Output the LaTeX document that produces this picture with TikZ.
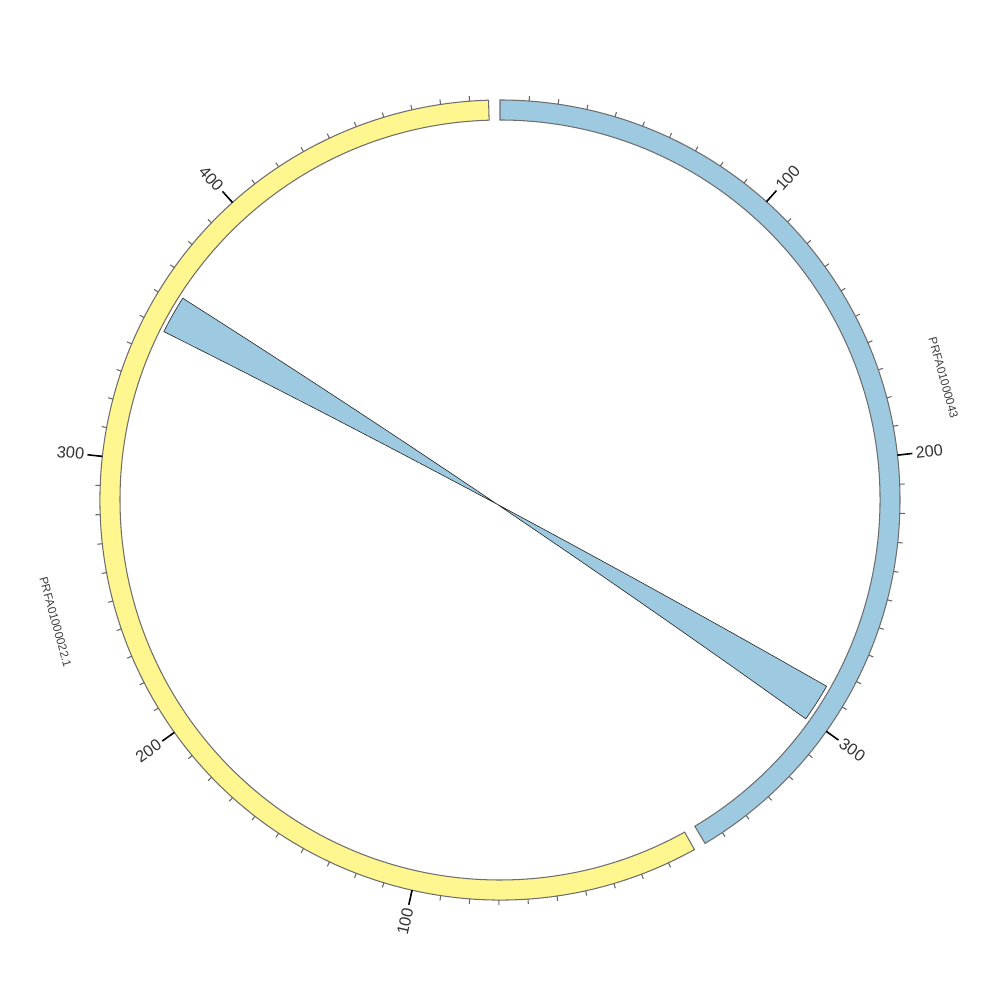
\documentclass[tikz,border=0pt]{standalone}
\usepackage{fontspec}
\setmainfont{Liberation Sans}
\definecolor{ideoblue}{HTML}{9ECAE1}
\definecolor{ideoyellow}{HTML}{FFF68F}
\definecolor{edgegray}{HTML}{6E6E6E}
\definecolor{txt}{HTML}{333333}
\begin{document}
\begin{tikzpicture}[
  ideo/.style={fill=#1, draw=edgegray, line width=0.6pt},
  ribbonstyle/.style={fill=ideoblue, draw=black!85, line width=0.35pt},
  minortick/.style={draw=black!60, line width=0.6pt},
  majortick/.style={draw=black, line width=0.9pt},
  ticklabel/.style={text=txt, font=\fontsize{9.3}{11}\selectfont, inner sep=0pt},
  chrlabel/.style={text=black!75, font=\fontsize{6.7}{8}\selectfont, inner sep=0pt},
]
\useasboundingbox (-10,-10) rectangle (10,10);
\def\dpu{0.4178}
% ---- blue ideogram PRFA01000043
\pgfmathsetmacro\bs{90}
\pgfmathsetmacro\be{90-357*\dpu}
\draw[ideo=ideoblue] (\bs:8) arc[start angle=\bs,end angle=\be,radius=8]
  -- (\be:7.6) arc[start angle=\be,end angle=\bs,radius=7.6] -- cycle;
% ---- yellow ideogram PRFA01000022.1
\pgfmathsetmacro\ys{-60.92}
\pgfmathsetmacro\ye{-60.92-496.5*\dpu}
\draw[ideo=ideoyellow] (\ys:8) arc[start angle=\ys,end angle=\ye,radius=8]
  -- (\ye:7.6) arc[start angle=\ye,end angle=\ys,radius=7.6] -- cycle;
% ---- ribbon
\pgfmathsetmacro\ba{90-286.5*\dpu}
\pgfmathsetmacro\bb{90-300.6*\dpu}
\pgfmathsetmacro\ya{-60.92-362.7*\dpu}
\pgfmathsetmacro\yb{-60.92-348.7*\dpu}
\coordinate (B1) at (\ba:7.52);
\coordinate (B2) at (\bb:7.52);
\coordinate (Y1) at (\ya:7.52);
\coordinate (Y2) at (\yb:7.52);
\draw[ribbonstyle] (B1) arc[start angle=\ba,end angle=\bb,radius=7.52]
  .. controls (\bb:2.507) and (\ya:2.507) .. (Y1)
  arc[start angle=\ya,end angle=\yb,radius=7.52]
  .. controls (\yb:2.507) and (\ba:2.507) .. (B1) -- cycle;
% ---- blue ticks
\foreach \u in {10,20,...,350}{
  \pgfmathsetmacro\a{90-\u*\dpu}
  \draw[minortick] (\a:8) -- (\a:8.1);
}
\foreach \u in {100,200,300}{
  \pgfmathsetmacro\a{90-\u*\dpu}
  \draw[majortick] (\a:8) -- (\a:8.3);
  \node[ticklabel, rotate=\a, anchor=west] (bl\u) at (\a:8.36) {\u};
}
% ---- yellow ticks
\foreach \u in {10,20,...,490}{
  \pgfmathsetmacro\a{-60.92-\u*\dpu}
  \draw[minortick] (\a:8) -- (\a:8.1);
}
\foreach \u in {100,200,300,400}{
  \pgfmathsetmacro\a{-60.92-\u*\dpu}
  \pgfmathsetmacro\r{\a+180}
  \draw[majortick] (\a:8) -- (\a:8.3);
  \node[ticklabel, rotate=\r, anchor=east] (yl\u) at (\a:8.36) {\u};
}
% ---- chromosome labels
\node[chrlabel, rotate=-74.58] (chrB) at (15.42:9.2) {PRFA01000043};
\node[chrlabel, rotate=-74.64] (chrY) at (-164.64:9.22) {PRFA01000022.1};
\end{tikzpicture}
\end{document}
